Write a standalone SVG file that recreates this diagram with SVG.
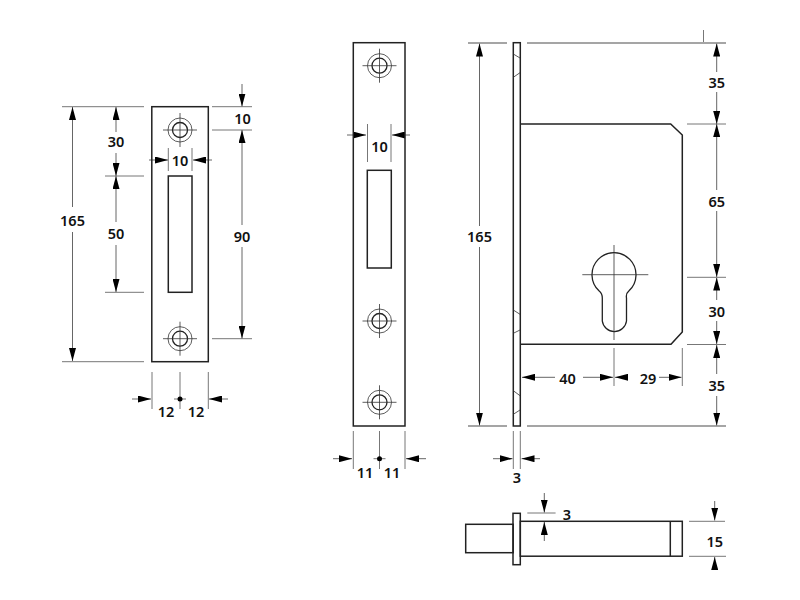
<svg xmlns="http://www.w3.org/2000/svg" width="800" height="600" viewBox="0 0 800 600">
<style>
.o{fill:none;stroke:#222;stroke-width:1.5}
.t{fill:none;stroke:#333;stroke-width:.8}
.d{fill:none;stroke:#666;stroke-width:1}
.e{fill:none;stroke:#777;stroke-width:1}
.g{fill:none;stroke:#888;stroke-width:1.6}
.a{fill:none;stroke:#666;stroke-width:1;marker-end:url(#h)}
text{font-family:"Noto Sans","Open Sans",sans-serif;font-size:14.500px;font-weight:600;fill:#111;text-anchor:middle;dominant-baseline:central}
</style>
<defs>
<marker id="h" markerUnits="userSpaceOnUse" viewBox="0 0 13 7" refX="13" refY="3.500" markerWidth="13" markerHeight="7" orient="auto"><path d="M0 0L13 3.500L0 7Z" fill="#000"/></marker>
<g id="screw"><circle r="12" class="t"/><circle r="7.500" fill="none" stroke="#222" stroke-width="1.300"/><path d="M-17 0H17M0-17V17" class="t"/></g>
</defs>
<g id="connectors">
<path class="e" d="M62 106.700H144M62 361.700H144M105 176H144M105 292.300H144M212 106.700H252M212 130H252M212 338.700H252M168.300 148V171M192 148V171M152 372V409M180 372V409M208.300 372V409M174 399H186"/>
<path class="a" d="M72.500 207V107"/><path class="a" d="M72.500 232V361"/>
<path class="a" d="M116 132V107"/><path class="a" d="M116 153V176"/>
<path class="a" d="M116 222V176"/><path class="a" d="M116 245V292"/>
<path class="a" d="M242 84V106.500"/><path class="a" d="M242 225V130"/><path class="a" d="M242 247V338.500"/>
<path class="a" d="M149 160H168"/><path class="a" d="M212 160H193"/>
<path class="a" d="M132 399H151"/><path class="a" d="M228 399H209"/>
<path class="e" d="M367.500 124V162M391 124V162M353.300 431V469M379.500 431V469M405 431V469M373.500 458.700H385.500"/>
<path class="a" d="M347 135H366"/><path class="a" d="M410 135H392"/>
<path class="a" d="M333 458.700H352"/><path class="a" d="M426 458.700H406"/>
<path class="g" d="M468 43H507M527 43H726M468 426H507M527 426H726"/>
<path class="e" d="M703.500 30V42M687 124H726M687 277.300H726M687 344.500H726M513.300 431V469M520.300 431V469M614 348V386M682.300 348V386"/>
<path class="a" d="M479.500 226V43.500"/><path class="a" d="M479.500 247V425.500"/>
<path class="a" d="M716.700 72V43.500"/><path class="a" d="M716.700 92V124"/>
<path class="a" d="M716.700 190V124"/><path class="a" d="M716.700 211V277"/>
<path class="a" d="M716.700 300V277.500"/><path class="a" d="M716.700 321V344"/>
<path class="a" d="M716.700 374V345"/><path class="a" d="M716.700 396V425.500"/>
<path class="a" d="M555 377.300H522"/><path class="a" d="M583 377.300H613"/>
<path class="a" d="M628 377.300H615"/><path class="a" d="M659 377.300H681.500"/>
<path class="a" d="M493 458.700H512.500"/><path class="a" d="M540 458.700H521.500"/>
<path class="e" d="M527.300 513H555.600M689 521.300H725M689 556.300H726"/>
<path class="a" d="M544.300 493V512.500"/><path class="a" d="M544.300 541V522"/>
<path class="a" d="M714.700 501V520.500"/><path class="a" d="M714.700 570V557"/>
<circle cx="180" cy="399" r="2.500" fill="#000"/><circle cx="379.500" cy="458.700" r="2.500" fill="#000"/>
</g>
<g id="strike-left">
<rect class="o" x="151.800" y="106.700" width="56.500" height="255"/>
<rect class="o" x="168.300" y="176" width="23.700" height="116.300"/>
<use href="#screw" x="180" y="130"/><use href="#screw" x="180" y="338.700"/>
</g>
<g id="strike-middle">
<rect class="o" x="353.300" y="42.700" width="51.700" height="383.300"/>
<rect class="o" x="367.300" y="170.300" width="24" height="97.700"/>
<use href="#screw" x="379.500" y="65.700"/><use href="#screw" x="379.500" y="321"/><use href="#screw" x="379.500" y="402.300"/>
</g>
<g id="lock-case">
<rect class="o" x="513.300" y="42.700" width="7" height="383.300"/>
<path class="t" d="M513.300 54L520 58M520 72.700L513.300 77.300M513.300 310L520 314.300M520 330L513.300 333.300M513.300 390.700L520 395.700M520 410L513.300 414.300"/>
<path class="o" d="M520.300 124H670.700L682.300 135V332L671 344.300H520.300"/>
<path fill="none" stroke="#222" stroke-width="1.300" d="M602.300 298Q602.300 293.500 599.200 291A22 22 0 1 1 628.800 291Q625.700 293.500 626.500 298V321A12.200 12.200 0 0 1 602.300 321Z"/>
<path class="t" d="M582.300 274.700H648.300M614 245V340"/>
</g>
<g id="bolt">
<rect class="o" x="465.700" y="524.300" width="47.500" height="28.400"/>
<rect class="o" x="513" y="513.300" width="7.300" height="51.400"/>
<rect class="o" x="520.300" y="521.300" width="162" height="34.900"/>
<path class="o" d="M670.300 521.300V556.200"/>
</g>
<g id="labels">
<text x="72.500" y="220">165</text><text x="116" y="141">30</text><text x="116" y="233">50</text>
<text x="242.500" y="118">10</text><text x="242" y="236">90</text><text x="180" y="160">10</text>
<text x="166" y="411">12</text><text x="196" y="411">12</text>
<text x="379.500" y="146">10</text><text x="365" y="471.500">11</text><text x="392" y="471.500">11</text>
<text x="479.500" y="236">165</text><text x="716.700" y="82">35</text><text x="716.700" y="200.500">65</text>
<text x="716.700" y="310.500">30</text><text x="716.700" y="385">35</text>
<text x="567.500" y="378">40</text><text x="648" y="378">29</text><text x="517" y="476.500">3</text>
<text x="567" y="513.500">3</text><text x="714.700" y="541">15</text>
</g>
</svg>
